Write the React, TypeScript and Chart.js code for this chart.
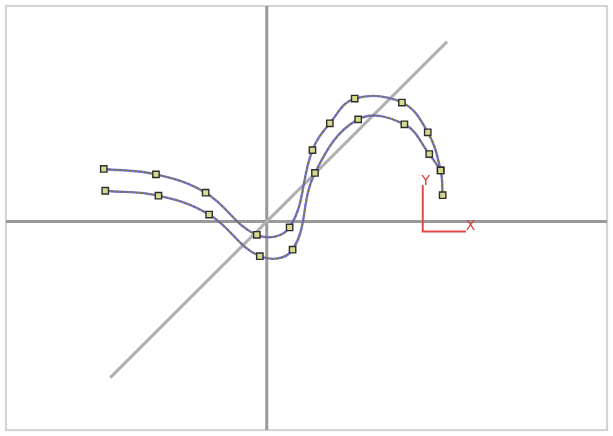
import React, { useEffect, useRef } from "react";
import { Chart, registerables } from "chart.js";
Chart.register(...registerables);

// Axis extents (data units)
const xRange = [-5.25, 6.85];
const yRange = [-4.21, 4.35];

// Diagonal reference line y = x
const diagX = [-3.15, 3.63];
const diagY = [-3.15, 3.63];

// Upper trajectory
const upperX = [-3.28, -2.23, -1.23, -0.2, 0.46, 0.92, 1.27, 1.77, 2.72, 3.24, 3.5, 3.54];
const upperY = [1.06, 0.95, 0.58, -0.27, -0.12, 1.44, 1.98, 2.48, 2.4, 1.8, 1.03, 0.53];

// Lower trajectory
const lowerX = [-3.25, -2.18, -1.16, -0.14, 0.52, 0.97, 1.84, 2.77, 3.27, 3.5];
const lowerY = [0.62, 0.52, 0.14, -0.7, -0.57, 0.98, 2.06, 1.96, 1.36, 1.03];

// Red orientation glyph
const gizmoX = [3.14, 3.14, 4.01];
const gizmoY = [0.73, -0.2, -0.2];
const gizmoLabels = ["Y", "X"];
const gizmoLabelX = [3.2, 4.1];
const gizmoLabelY = [0.8, -0.1];

const pts = (xs: number[], ys: number[]) => xs.map((x, i) => ({ x, y: ys[i] }));

export default function App() {
  const ref = useRef<HTMLCanvasElement | null>(null);
  useEffect(() => {
    document.body.style.margin = "0";
    const frame = {
      id: "frame",
      beforeDatasetsDraw(chart: any) {
        const { ctx, chartArea: a, scales } = chart;
        ctx.save();
        ctx.strokeStyle = "#d2d2d2";
        ctx.lineWidth = 2;
        ctx.strokeRect(a.left, a.top, a.right - a.left, a.bottom - a.top);
        const x0 = scales.x.getPixelForValue(0);
        const y0 = scales.y.getPixelForValue(0);
        ctx.strokeStyle = "#999999";
        ctx.lineWidth = 3;
        ctx.beginPath();
        ctx.moveTo(x0, a.top);
        ctx.lineTo(x0, a.bottom);
        ctx.moveTo(a.left, y0);
        ctx.lineTo(a.right, y0);
        ctx.stroke();
        ctx.restore();
      },
      afterDatasetsDraw(chart: any) {
        const { ctx, scales } = chart;
        ctx.save();
        ctx.fillStyle = "#e03a3a";
        ctx.font = "14px 'DejaVu Sans'";
        ctx.textAlign = "center";
        ctx.textBaseline = "middle";
        gizmoLabels.forEach((t, i) => {
          ctx.fillText(t, scales.x.getPixelForValue(gizmoLabelX[i]), scales.y.getPixelForValue(gizmoLabelY[i]));
        });
        ctx.restore();
      },
    };
    const curve = (data: any[], blue: boolean) => ({
      type: "scatter" as const,
      data,
      showLine: true,
      tension: 0.4,
      order: blue ? 2 : 1,
      borderColor: blue ? "rgba(100,100,230,0.9)" : "#7a7a22",
      borderWidth: blue ? 2.4 : 1.4,
      borderDash: blue ? [] : [3, 2],
      pointRadius: blue ? 0 : 4.5,
      pointStyle: "rect",
      pointBackgroundColor: "#d8d890",
      pointBorderColor: "#2e2e2e",
      pointBorderWidth: 1.4,
    });
    const chart = new Chart(ref.current!, {
      type: "scatter",
      data: {
        datasets: [
          {
            data: pts(diagX, diagY),
            showLine: true,
            order: 3,
            borderColor: "#b0b0b0",
            borderWidth: 3,
            pointRadius: 0,
          },
          curve(pts(upperX, upperY), true),
          curve(pts(lowerX, lowerY), true),
          curve(pts(upperX, upperY), false),
          curve(pts(lowerX, lowerY), false),
          {
            data: pts(gizmoX, gizmoY),
            showLine: true,
            order: 0,
            borderColor: "#e04848",
            borderWidth: 2,
            pointRadius: 0,
          },
        ] as any,
      },
      options: {
        animation: false,
        responsive: false,
        layout: { padding: { left: 4, right: 4, top: 4, bottom: 4 } },
        plugins: { legend: { display: false }, tooltip: { enabled: false } },
        scales: {
          x: { type: "linear", display: false, min: xRange[0], max: xRange[1] },
          y: { type: "linear", display: false, min: yRange[0], max: yRange[1] },
        },
      },
      plugins: [frame],
    });
    return () => chart.destroy();
  }, []);
  return (
    <div style={{ width: 613, height: 436, background: "#fff" }}>
      <canvas ref={ref} width={613} height={436} />
    </div>
  );
}
